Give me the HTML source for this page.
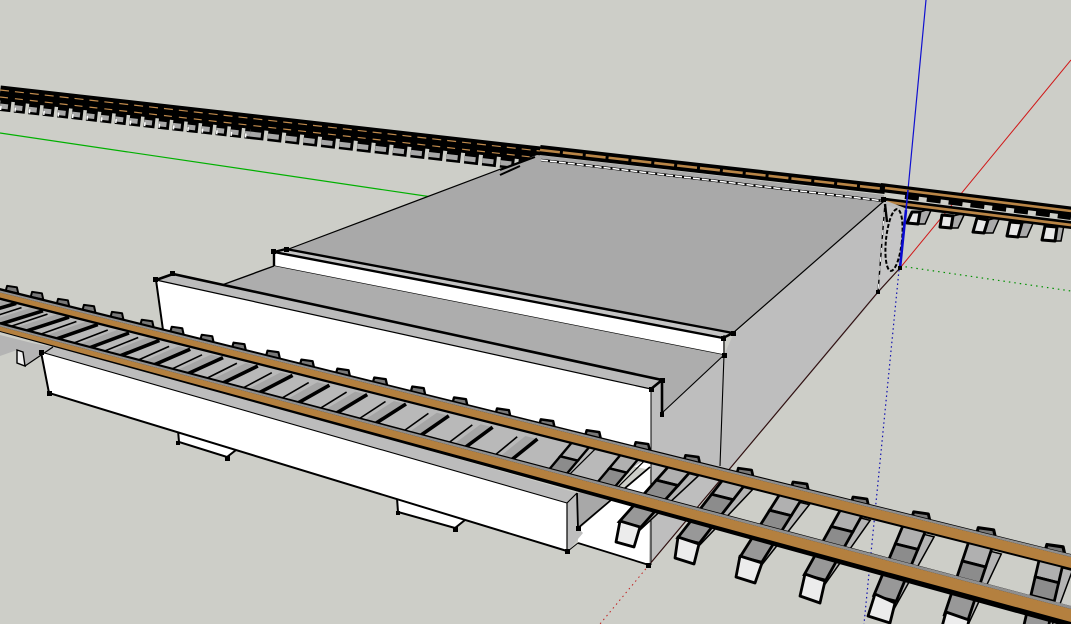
<!DOCTYPE html>
<html><head><meta charset="utf-8"><style>
html,body{margin:0;padding:0;background:#cdcec8;overflow:hidden}
svg{display:block}
</style></head><body>
<svg width="1071" height="624" viewBox="0 0 1071 624" xmlns="http://www.w3.org/2000/svg">
<defs>
<g id="t">
 <polygon points="8,17 17,17 9,88 7,88" fill="#b4b4b4" stroke="#000" stroke-width="1.5" vector-effect="non-scaling-stroke"/>
 <polygon points="-9,12 9,12 9,30 -9,30" fill="#b0b0b0" stroke="#000" stroke-width="2.8" vector-effect="non-scaling-stroke"/>
 <polygon points="-9,30 9,30 9,46 -9,46" fill="#8c8c8c" stroke="#000" stroke-width="2.8" vector-effect="non-scaling-stroke"/>
 <polygon points="-9,50 9,50 9,75 -9,75" fill="#989898" stroke="#000" stroke-width="2.8" vector-effect="non-scaling-stroke"/>
</g>
<g id="m">
 <polygon points="-8,12 8,12 8,30 -8,30" fill="#b0b0b0" stroke="#000" stroke-width="2.4" vector-effect="non-scaling-stroke"/>
 <polygon points="-8,30 8,30 8,46 -8,46" fill="#8c8c8c" stroke="#000" stroke-width="2.4" vector-effect="non-scaling-stroke"/>
 <path d="M14,14 L10,48" stroke="#000" stroke-width="1.2" fill="none" vector-effect="non-scaling-stroke"/>
</g>
<g id="b">
 <polygon points="-4,.4 6,.4 2,.95 -9,.95" fill="#a5a5a5"/>
 <path d="M8,.4 L3,.95" stroke="#000" stroke-width="3.6" fill="none" vector-effect="non-scaling-stroke"/>
 <path d="M-10,.45 L-14,.95" stroke="#000" stroke-width="1.6" fill="none" vector-effect="non-scaling-stroke"/>
</g>
<polygon id="h" points="-7,-3 7,-1 9,8 -9,4" fill="#787878" stroke="#000" stroke-width="2.8" stroke-linejoin="round"/>
</defs>
<rect width="1071" height="624" fill="#cdcec8"/>

<!-- axes -->
<path d="M0,133 L432,197" stroke="#00b000" stroke-width="1.2" fill="none"/>
<path d="M926,0 L908,190" stroke="#1010d0" stroke-width="1.2" fill="none"/>
<path d="M1071,60 L900,268" stroke="#d01818" stroke-width="1" fill="none"/>
<path d="M900,266 L1071,291" stroke="#009000" stroke-width="1.2" stroke-dasharray="1.5 4" fill="none"/>
<path d="M899,270 L864,624" stroke="#1010b0" stroke-width="1.2" stroke-dasharray="1.5 3" fill="none"/>
<path d="M649,565 L600,624" stroke="#c02020" stroke-width="1" stroke-dasharray="1.5 3.5" fill="none"/>

<!-- far track left -->
<path d="M0,93 L540,154" stroke="#000" stroke-width="15" fill="none"/>
<path d="M0,105 L250,133" stroke="#000" stroke-width="12" stroke-dasharray="11 3.5" fill="none"/>
<path d="M250,133 L530,165" stroke="#000" stroke-width="12" stroke-dasharray="14 4" fill="none"/>
<path d="M0,106 L250,134" stroke="#a8a8a8" stroke-width="5" stroke-dasharray="8 6.5" fill="none"/>
<path d="M250,134 L530,166" stroke="#a8a8a8" stroke-width="5" stroke-dasharray="11 7" fill="none"/>
<path d="M0,108 L250,136" stroke="#fff" stroke-width="4" stroke-dasharray="1.5 13" fill="none"/>
<path d="M0,90 L540,151" stroke="#c08a4c" stroke-width="1.2" stroke-dasharray="9 6" fill="none"/>
<path d="M0,97 L540,158" stroke="#c08a4c" stroke-width="1.2" stroke-dasharray="8 7" fill="none"/>

<!-- far track right of the bridge -->
<path d="M540,150 L885,189" stroke="#000" stroke-width="10" fill="none"/>
<path d="M540,150 L885,189" stroke="#b98546" stroke-width="2.6" stroke-dasharray="20 3" fill="none"/>
<path d="M885,188 L1071,211" stroke="#000" stroke-width="9" stroke-linecap="square" fill="none"/>
<path d="M885,188 L1071,211" stroke="#b98546" stroke-width="2.6" fill="none"/>
<path d="M905,196 L1071,217" stroke="#000" stroke-width="6" stroke-dasharray="14 8" fill="none"/>
<g stroke="#000" stroke-width="1.5">
<polygon points="920,212 932,208 925,224 918,224" fill="#aaa"/>
<polygon points="953,216 965,213 958,228 951,228" fill="#aaa"/>
<polygon points="988,220 1000,217 993,233 984,233" fill="#aaa"/>
<polygon points="1022,223 1034,221 1027,237 1018,237" fill="#aaa"/>
<polygon points="1057,227 1064,225 1061,241 1055,241" fill="#aaa"/>
</g>
<g stroke="#000" stroke-width="3" stroke-linejoin="round" fill="#e8e8e8">
<polygon points="912,212 907,223 918,224 920,212"/>
<polygon points="942,215 940,227 951,228 953,216"/>
<polygon points="977,218 973,232 984,233 988,220"/>
<polygon points="1010,222 1007,236 1018,237 1022,223"/>
<polygon points="1045,226 1042,240 1055,241 1057,227"/>
</g>
<path d="M887,202 L1071,225" stroke="#000" stroke-width="8" stroke-linecap="square" fill="none"/>
<path d="M887,202 L1071,225" stroke="#b98546" stroke-width="2.8" fill="none"/>

<!-- bridge side faces -->
<polygon points="651,389 662,380 662,413 724,355 733,335 884,200 905,208 900,268 649,565 651,440" fill="#bebebe"/>
<!-- deck -->
<polygon points="537,155 884,195 884,200 733,333 286,250" fill="#a9a9a9"/>
<path d="M530,158 L286,250" stroke="#000" stroke-width="1.2" fill="none"/>
<path d="M500,170 L535,157 M500,175 L520,166" stroke="#000" stroke-width="2" fill="none"/>
<path d="M541,160 L884,201" stroke="#000" stroke-width="2.6" fill="none"/>
<path d="M541,160 L884,201" stroke="#fff" stroke-width="1.5" stroke-dasharray="7 2" fill="none"/>
<!-- back strip -->
<polygon points="274,252 286,249 733,333 723,338" fill="#c4c4c4"/>
<polygon points="274,252 723,338 723,354 274,266" fill="#fff"/>
<path d="M286,249 L733,333 M274,252 L286,249 M274,252 L723,338 M733,333 L723,338 M274,252 L274,266" stroke="#000" stroke-width="2.4" fill="none"/>
<path d="M274,266 L724,355" stroke="#000" stroke-width="1.2" fill="none"/>
<!-- channel -->
<polygon points="274,266 724,355 662,413 662,380 222,285" fill="#adadad"/>
<!-- front wall -->
<polygon points="156,280 651,389 651,470 300,400 163,330" fill="#fff"/>
<polygon points="156,280 173,274 662,380 651,389" fill="#bbb"/>
<path d="M156,280 L173,274 L662,380 L651,389" stroke="#000" stroke-width="2.6" fill="none"/>
<path d="M156,280 L651,389" stroke="#000" stroke-width="1.2" fill="none"/>
<path d="M156,280 L163,330" stroke="#000" stroke-width="2" fill="none"/>
<path d="M222,285 L274,266" stroke="#000" stroke-width="1.4" fill="none"/>
<path d="M662,413 L724,355" stroke="#000" stroke-width="1.1" fill="none"/>
<path d="M662,380 L662,415" stroke="#000" stroke-width="2.6" fill="none"/>
<path d="M651,389 L651,565" stroke="#000" stroke-width="1" fill="none"/>
<path d="M724,335 L724,355 L720,466" stroke="#000" stroke-width="1.1" fill="none"/>
<path d="M733,333 L884,201" stroke="#000" stroke-width="1.2" fill="none"/>
<!-- end face -->
<polygon points="885,205 905,210 900,268 878,292" fill="#c6c6c6"/>
<path d="M885,203 L878,292" stroke="#000" stroke-width="1.4" fill="none"/>
<path d="M885,203 L878,292" stroke="#fff" stroke-width="1" stroke-dasharray="5 4" fill="none"/>
<ellipse cx="894" cy="240" rx="8" ry="31" transform="rotate(6 894 240)" fill="none" stroke="#000" stroke-width="2" stroke-dasharray="4 2"/>
<path d="M908,190 L906,210" stroke="#1010d0" stroke-width="1.6" fill="none"/>
<path d="M906,210 L900,268" stroke="#0a0ad0" stroke-width="2.6" fill="none"/>
<path d="M900,268 L878,292 L649,565" stroke="#301010" stroke-width="1.2" fill="none"/>
<path d="M885,204 L887,222" stroke="#000" stroke-width="2.4" fill="none"/>

<!-- white opening -->
<polygon points="650,467 578,530 578,543 649,565" fill="#fff"/>
<path d="M578,543 L649,565" stroke="#000" stroke-width="1.8" fill="none"/>

<!-- feet -->
<g stroke="#000" stroke-width="2">
<polygon points="178,430 179,442 227,457 236,450 228,440" fill="#fff"/>
<polygon points="397,498 398,512 455,528 465,520 450,510" fill="#fff"/>
</g>
<!-- lower beam -->
<polygon points="567,503 577,493 578,528 583,533 568,551" fill="#bebebe"/>
<polygon points="577,493 578,528 622,488 600,488" fill="#a8a8a8"/>
<polygon points="41,352 60,345 577,493 567,503" fill="#bcbcbc"/>
<polygon points="41,352 567,503 567,551 49,393" fill="#fff"/>
<path d="M41,352 L567,503" stroke="#000" stroke-width="1.1" fill="none"/>
<path d="M41,352 L49,393 L567,551" stroke="#000" stroke-width="2" fill="none"/>
<path d="M567,503 L567,551 M567,503 L577,493" stroke="#000" stroke-width="1.2" fill="none"/>
<path d="M577,493 L578,528 L650,467" stroke="#000" stroke-width="1.8" fill="none"/>
<path d="M568,551 L578,543" stroke="#000" stroke-width="1" fill="none"/>

<!-- gray under left of track -->
<polygon points="0,335 32,343 53,347 25,366 17,363 17,350 0,356" fill="#b4b4b4"/>
<polygon points="17,350 23,352 25,366 17,363" fill="#eee" stroke="#000" stroke-width="1.4"/>
<path d="M25,366 L53,347" stroke="#000" stroke-width="1.2"/>

<!-- between rails on bridge -->
<polygon points="0,294 650,456 600,490 0,327" fill="#b9b9b9"/>

<!-- bridge ties -->
<use href="#b" transform="matrix(1 .25 -72 26 12 285)"/>
<use href="#b" transform="matrix(1 .25 -72 26 37 291)"/>
<use href="#b" transform="matrix(1 .25 -70 27 63 298)"/>
<use href="#b" transform="matrix(1 .25 -70 28 89 304)"/>
<use href="#b" transform="matrix(1 .25 -68 29 117 311)"/>
<use href="#b" transform="matrix(1 .25 -65 30 147 319)"/>
<use href="#b" transform="matrix(1 .25 -64 31 177 326)"/>
<use href="#b" transform="matrix(1 .25 -62 33 207 334)"/>
<use href="#b" transform="matrix(1 .25 -60 34 239 342)"/>
<use href="#b" transform="matrix(1 .25 -58 35 273 350)"/>
<use href="#b" transform="matrix(1 .25 -56 36 307 359)"/>
<use href="#b" transform="matrix(1 .25 -54 38 343 368)"/>
<use href="#b" transform="matrix(1 .25 -52 39 380 377)"/>
<use href="#b" transform="matrix(1 .25 -50 40 418 386)"/>
<use href="#b" transform="matrix(1 .25 -48 42 460 397)"/>
<use href="#b" transform="matrix(1 .25 -46 43 503 408)"/>
<use href="#b" transform="matrix(1 .25 -44 45 547 419)"/>
<use href="#m" transform="matrix(1.1 .27 -.8 .95 593 430)"/>
<use href="#m" transform="matrix(1.1 .27 -.8 .95 642 442)"/>

<!-- tie humps -->
<use href="#h" transform="translate(12 288) scale(.7)"/>
<use href="#h" transform="translate(37 294) scale(.7)"/>
<use href="#h" transform="translate(63 301) scale(.7)"/>
<use href="#h" transform="translate(89 307) scale(.72)"/>
<use href="#h" transform="translate(117 314) scale(.72)"/>
<use href="#h" transform="translate(147 322) scale(.75)"/>
<use href="#h" transform="translate(177 329) scale(.75)"/>
<use href="#h" transform="translate(207 337) scale(.75)"/>
<use href="#h" transform="translate(239 345) scale(.78)"/>
<use href="#h" transform="translate(273 353) scale(.78)"/>
<use href="#h" transform="translate(307 362) scale(.8)"/>
<use href="#h" transform="translate(343 371) scale(.8)"/>
<use href="#h" transform="translate(380 380) scale(.82)"/>
<use href="#h" transform="translate(418 389) scale(.82)"/>
<use href="#h" transform="translate(460 400) scale(.85)"/>
<use href="#h" transform="translate(503 411) scale(.85)"/>
<use href="#h" transform="translate(547 422) scale(.88)"/>
<use href="#h" transform="translate(593 433) scale(.9)"/>
<use href="#h" transform="translate(642 445) scale(.9)"/>
<use href="#h" transform="translate(692 458) scale(.92)"/>
<use href="#h" transform="translate(745 471) scale(.95)"/>
<use href="#h" transform="translate(800 485)"/>
<use href="#h" transform="translate(860 500)"/>
<use href="#h" transform="translate(921 515) scale(1.05)"/>
<use href="#h" transform="translate(986 531) scale(1.1)"/>
<use href="#h" transform="translate(1055 548) scale(1.15)"/>

<!-- full ties -->
<use href="#t" transform="matrix(1.2 .3 -.827 .927 692 455)"/>
<use href="#t" transform="matrix(1.2 .3 -.753 .967 745 468)"/>
<use href="#t" transform="matrix(1.2 .3 -.653 1.033 800 482)"/>
<use href="#t" transform="matrix(1.2 .3 -.6 1.073 860 497)"/>
<use href="#t" transform="matrix(1.25 .31 -.48 1.153 921 512)"/>
<use href="#t" transform="matrix(1.3 .33 -.4 1.2 986 528)"/>
<use href="#t" transform="matrix(1.3 .33 -.27 1.16 1055 545)"/>
<g fill="#ececec" stroke="#000" stroke-width="2.8" stroke-linejoin="round">
<polygon points="620,521 616,542 634,547 640,527"/>
<polygon points="678,537 675,558 694,564 699,544"/>
<polygon points="740,556 736,577 755,583 762,563"/>
<polygon points="805,574 800,596 820,603 825,581"/>
<polygon points="875,594 868,616 890,623 895,603"/>
<polygon points="946,612 940,634 964,641 969,620"/>
</g>

<!-- near rails -->
<polygon points="0,288 1071,554 1071,570 0,300" fill="#000"/>
<polygon points="0,292.500 1071,557 1071,568 0,297.500" fill="#b4803f"/>
<polygon points="0,290.500 1071,554.500 1071,557 0,292.500" fill="#8f8f8f"/>
<polygon points="0,322 1071,606 1071,628 0,332" fill="#000"/>
<polygon points="0,326.500 1071,609 1071,622 0,331" fill="#b4803f"/>
<polygon points="0,324.500 1071,606 1071,609 0,326.500" fill="#8f8f8f"/>

<!-- vertices -->
<g fill="#000">
<rect x="153" y="277" width="5" height="5"/><rect x="170" y="271" width="5" height="5"/>
<rect x="271" y="249" width="5" height="5"/><rect x="284" y="247" width="5" height="5"/>
<rect x="721" y="336" width="5" height="5"/><rect x="731" y="331" width="5" height="5"/>
<rect x="722" y="353" width="5" height="5"/><rect x="660" y="378" width="5" height="5"/>
<rect x="649" y="387" width="5" height="5"/><rect x="660" y="412" width="4" height="5"/>
<rect x="881" y="197" width="5" height="5"/><rect x="898" y="266" width="4" height="4"/>
<rect x="876" y="290" width="4" height="4"/><rect x="646" y="563" width="5" height="5"/>
<rect x="565" y="549" width="5" height="5"/><rect x="576" y="526" width="5" height="5"/>
<rect x="47" y="391" width="5" height="5"/><rect x="39" y="350" width="5" height="5"/>
<rect x="176" y="441" width="4" height="4"/><rect x="225" y="456" width="5" height="5"/>
<rect x="396" y="511" width="4" height="4"/><rect x="453" y="527" width="5" height="5"/>
</g>
</svg>
</body></html>
